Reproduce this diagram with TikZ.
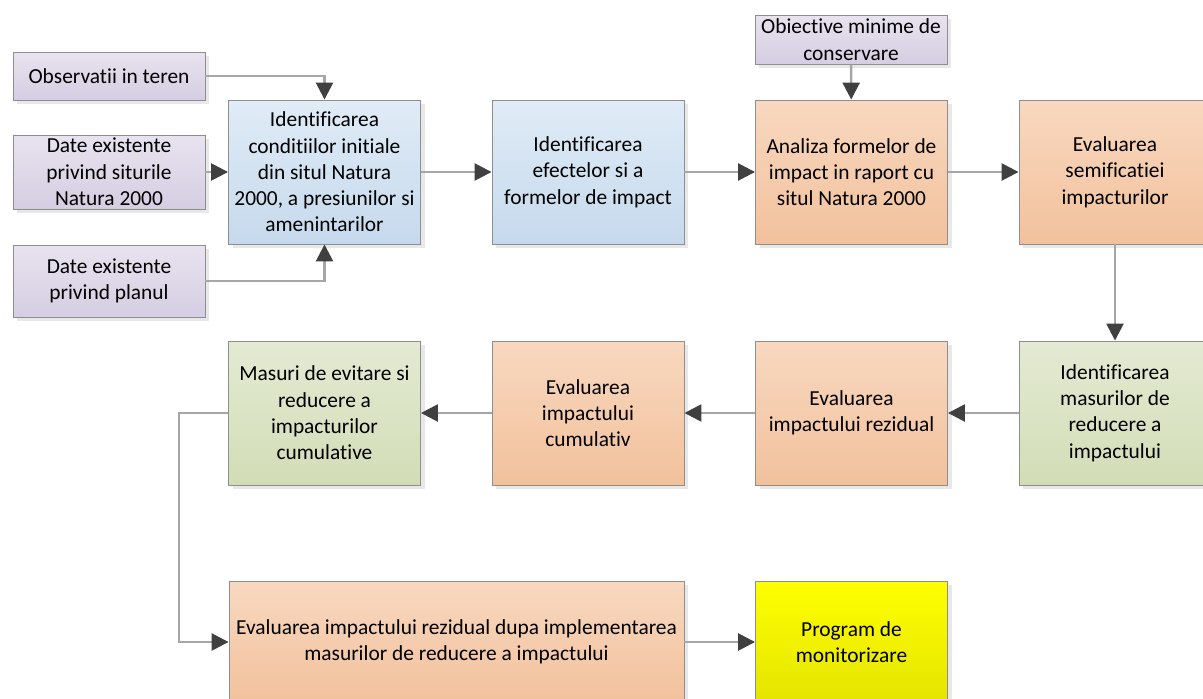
\documentclass[tikz,border=0pt]{standalone}
\usepackage{fontspec}
\setmainfont{Carlito}[Ligatures={NoCommon}]
\usetikzlibrary{arrows.meta,shadows}

\definecolor{purple_top}{HTML}{E8E3EF}
\definecolor{purple_bot}{HTML}{D5CDE2}
\definecolor{blue_top}{HTML}{E0ECF7}
\definecolor{blue_bot}{HTML}{C6D9EC}
\definecolor{orange_top}{HTML}{F8D8C0}
\definecolor{orange_bot}{HTML}{F2C19C}
\definecolor{green_top}{HTML}{E4EAD3}
\definecolor{green_bot}{HTML}{D2DDB6}
\definecolor{yellow_top}{HTML}{FFFF00}
\definecolor{yellow_bot}{HTML}{E4E400}
\definecolor{box_line}{HTML}{8E8E8E}
\definecolor{conn_line}{HTML}{A6A6A6}
\definecolor{tip_fill}{HTML}{404040}

\begin{document}
\begin{tikzpicture}[x=1pt,y=-1pt]

        \tikzset{
            box/.style={draw=box_line, line width=0.9pt, align=center, inner sep=2pt,
                minimum width=192pt, minimum height=144pt,
                font=\fontsize{21.4pt}{26.3pt}\selectfont,
                drop shadow={shadow xshift=4pt, shadow yshift=-4pt, fill=black!9, opacity=1}},
            box_purple/.style={box, top color=purple_top, bottom color=purple_bot},
            box_blue/.style={box, top color=blue_top, bottom color=blue_bot},
            box_orange/.style={box, top color=orange_top, bottom color=orange_bot},
            box_green/.style={box, top color=green_top, bottom color=green_bot},
            box_yellow/.style={box, top color=yellow_top, bottom color=yellow_bot},
            connect/.style={draw=conn_line, line width=2.6pt,
                -{Triangle[length=17pt, width=17pt, color=tip_fill]}}
        }

        \useasboundingbox (0,0) rectangle (1203,699);
        \clip (0,0) rectangle (1203,699);

        % inputs
        \node[box_purple, minimum height=48pt] (obs) at (109,76) {Observatii in teren};
        \node[box_purple, minimum height=74pt] (sit) at (109,172) {Date existente\\privind siturile\\Natura 2000};
        \node[box_purple, minimum height=72pt] (plan) at (109,281) {Date existente\\privind planul};
        \node[box_purple, minimum height=49pt] (obiect) at (851,39.5) {Obiective minime de\\conservare};

        % row 1
        \node[box_blue] (ident) at (324.5,172) {Identificarea\\conditiilor initiale\\din situl Natura\\2000, a presiunilor si\\amenintarilor};
        \node[box_blue] (efect) at (588,172) {Identificarea\\efectelor si a\\formelor de impact};
        \node[box_orange] (analiza) at (851.5,172) {Analiza formelor de\\impact in raport cu\\situl Natura 2000};
        \node[box_orange] (semnif) at (1115,172) {Evaluarea\\semificatiei\\impacturilor};

        % row 2
        \node[box_green] (reducere) at (1115,413) {Identificarea\\masurilor de\\reducere a\\impactului};
        \node[box_orange] (rezid) at (851.5,413) {Evaluarea\\impactului rezidual};
        \node[box_orange] (cumul) at (588,413) {Evaluarea\\impactului\\cumulativ};
        \node[box_green] (evitare) at (324.5,413) {Masuri de evitare si\\reducere a\\impacturilor\\cumulative};

        % row 3
        \node[box_orange, minimum width=455pt, minimum height=122pt] (final) at (456.5,642) {Evaluarea impactului rezidual dupa implementarea\\masurilor de reducere a impactului};
        \node[box_yellow, minimum height=122pt] (monitor) at (851.5,642) {Program de\\monitorizare};

        \draw[connect] (obs.east) -| (ident.north);
        \draw[connect] (sit) -- (ident);
        \draw[connect] (plan.east) -| (ident.south);
        \draw[connect] (obiect) -- (analiza);

        \draw[connect] (ident) -- (efect);
        \draw[connect] (efect) -- (analiza);
        \draw[connect] (analiza) -- (semnif);
        \draw[connect] (semnif) -- (reducere);
        \draw[connect] (reducere) -- (rezid);
        \draw[connect] (rezid) -- (cumul);
        \draw[connect] (cumul) -- (evitare);
        \draw[connect] (evitare.west) -- ++(-49,0) |- (final.west);
        \draw[connect] (final) -- (monitor);

    \end{tikzpicture}
\end{document}
